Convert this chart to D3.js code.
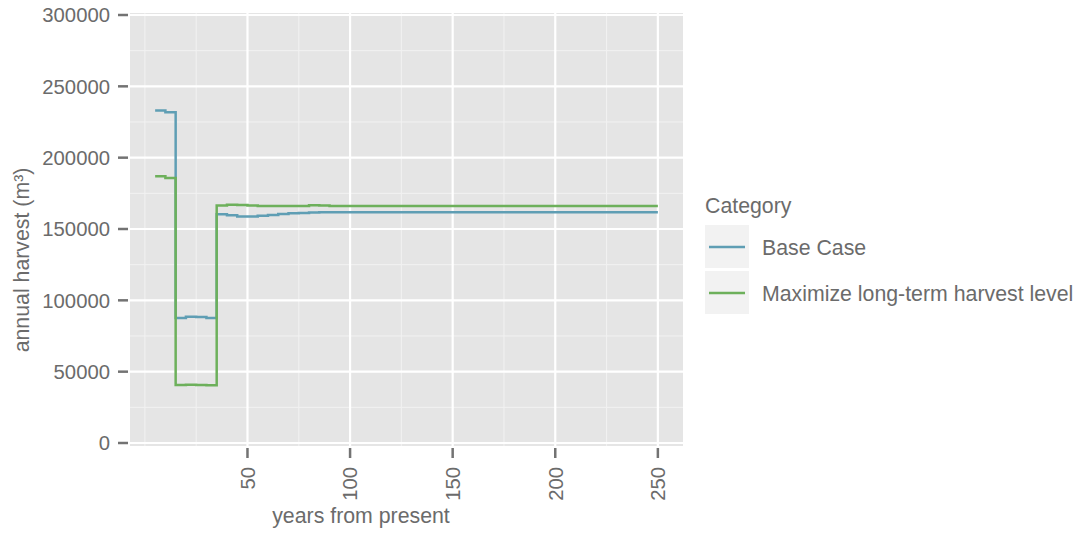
<!DOCTYPE html>
<html>
<head>
<meta charset="utf-8">
<script src="https://cdn.jsdelivr.net/npm/d3@7"></script>
<style>
  html, body { margin: 0; padding: 0; background: #ffffff; }
  svg { display: block; font-family: "Liberation Sans", Arial, Helvetica, sans-serif; }
</style>
</head>
<body>
<svg id="chart" width="1078" height="533"></svg>
<script>
// ---- data ----
const years = [5,10,15,20,25,30,35,40,45,50,55,60,65,70,75,80,85,90,95,100,
  105,110,115,120,125,130,135,140,145,150,155,160,165,170,175,180,185,190,195,200,
  205,210,215,220,225,230,235,240,245,250];
const baseCase = [233000,231800,87700,88500,88300,87600,160300,159700,158800,158700,
  159300,159900,160500,161000,161300,161600,161800,161800,161800,161800,
  161800,161800,161800,161800,161800,161800,161800,161800,161800,161800,
  161800,161800,161800,161800,161800,161800,161800,161800,161800,161800,
  161800,161800,161800,161800,161800,161800,161800,161800,161800,161800];
const maxLongTerm = [187000,185800,40600,40800,40700,40400,166400,167000,166800,166400,
  166100,166100,166100,166100,166200,166600,166400,166100,166100,166100,
  166100,166100,166100,166100,166100,166100,166100,166100,166100,166100,
  166100,166100,166100,166100,166100,166100,166100,166100,166100,166100,
  166100,166100,166100,166100,166100,166100,166100,166100,166100,166100];
const seriesNames = ["Base Case", "Maximize long-term harvest level"];
const seriesColors = ["#5f9eb4", "#6db05b"];
const xTicks = [50, 100, 150, 200, 250];
const xMinor = [0, 25, 75, 125, 175, 225];
const yTicks = [0, 50000, 100000, 150000, 200000, 250000, 300000];
const yMinor = [25000, 75000, 125000, 175000, 225000, 275000];

// ---- layout ----
const svg = d3.select("#chart");
const panel = { left: 130, right: 683, top: 13, bottom: 446 };
const x = d3.scaleLinear().domain([-7.25, 262.25]).range([panel.left, panel.right]);
const y = d3.scaleLinear().domain([0, 300000]).range([443, 15]);
const textCol = "#6b6b6b";

svg.append("rect")
  .attr("x", panel.left).attr("y", panel.top)
  .attr("width", panel.right - panel.left).attr("height", panel.bottom - panel.top)
  .attr("fill", "#e5e5e5");

const grid = svg.append("g");
grid.selectAll(".ymin").data(yMinor).enter().append("line")
  .attr("x1", panel.left).attr("x2", panel.right)
  .attr("y1", d => y(d)).attr("y2", d => y(d))
  .attr("stroke", "#f2f2f2").attr("stroke-width", 1);
grid.selectAll(".xmin").data(xMinor).enter().append("line")
  .attr("y1", panel.top).attr("y2", panel.bottom)
  .attr("x1", d => x(d)).attr("x2", d => x(d))
  .attr("stroke", "#f2f2f2").attr("stroke-width", 1);
grid.selectAll(".ymaj").data(yTicks).enter().append("line")
  .attr("x1", panel.left).attr("x2", panel.right)
  .attr("y1", d => y(d)).attr("y2", d => y(d))
  .attr("stroke", "#ffffff").attr("stroke-width", 2.2);
grid.selectAll(".xmaj").data(xTicks).enter().append("line")
  .attr("y1", panel.top).attr("y2", panel.bottom)
  .attr("x1", d => x(d)).attr("x2", d => x(d))
  .attr("stroke", "#ffffff").attr("stroke-width", 2.2);

// ---- lines ----
const seriesData = [baseCase, maxLongTerm];
const line = d3.line()
  .x((d, i) => x(years[i]))
  .y(d => y(d))
  .curve(d3.curveStepAfter);
svg.append("g").selectAll("path").data(seriesData).enter().append("path")
  .attr("d", d => line(d))
  .attr("fill", "none")
  .attr("stroke", (d, i) => seriesColors[i])
  .attr("stroke-width", 2.5);

// ---- y axis ----
const yAxis = svg.append("g");
yAxis.selectAll("line").data(yTicks).enter().append("line")
  .attr("x1", 118).attr("x2", 128)
  .attr("y1", d => y(d)).attr("y2", d => y(d))
  .attr("stroke", "#737373").attr("stroke-width", 2.5);
yAxis.selectAll("text").data(yTicks).enter().append("text")
  .attr("x", 110).attr("y", d => y(d))
  .attr("dy", "0.36em")
  .attr("text-anchor", "end")
  .attr("font-size", 20.3)
  .attr("fill", textCol)
  .text(d => d);

// ---- x axis ----
const xAxis = svg.append("g");
xAxis.selectAll("line").data(xTicks).enter().append("line")
  .attr("y1", 448).attr("y2", 458)
  .attr("x1", d => x(d)).attr("x2", d => x(d))
  .attr("stroke", "#737373").attr("stroke-width", 2.5);
xAxis.selectAll("text").data(xTicks).enter().append("text")
  .attr("transform", d => `translate(${x(d)},467) rotate(-90)`)
  .attr("dy", "0.36em")
  .attr("text-anchor", "end")
  .attr("font-size", 20.3)
  .attr("fill", textCol)
  .text(d => d);

// ---- axis titles ----
svg.append("text")
  .attr("x", 361).attr("y", 523)
  .attr("text-anchor", "middle")
  .attr("font-size", 21.3)
  .attr("fill", textCol)
  .text("years from present");
svg.append("text")
  .attr("transform", "translate(29,260) rotate(-90)")
  .attr("text-anchor", "middle")
  .attr("font-size", 21.3)
  .attr("fill", textCol)
  .text("annual harvest (m³)");

// ---- legend ----
const legend = svg.append("g");
legend.append("text")
  .attr("x", 705).attr("y", 213)
  .attr("font-size", 21.3)
  .attr("fill", textCol)
  .text("Category");
const keys = legend.selectAll(".key").data(seriesNames).enter().append("g")
  .attr("transform", (d, i) => `translate(705,${225 + i * 46})`);
keys.append("rect")
  .attr("x", 0).attr("y", 0).attr("width", 44).attr("height", 43)
  .attr("fill", "#f2f2f2");
keys.append("line")
  .attr("x1", 4).attr("x2", 40).attr("y1", 22).attr("y2", 22)
  .attr("stroke", (d, i) => seriesColors[i]).attr("stroke-width", 2.7);
keys.append("text")
  .attr("x", 57).attr("y", 22).attr("dy", "0.36em")
  .attr("font-size", 21.3)
  .attr("fill", textCol)
  .text(d => d);
</script>
</body>
</html>
